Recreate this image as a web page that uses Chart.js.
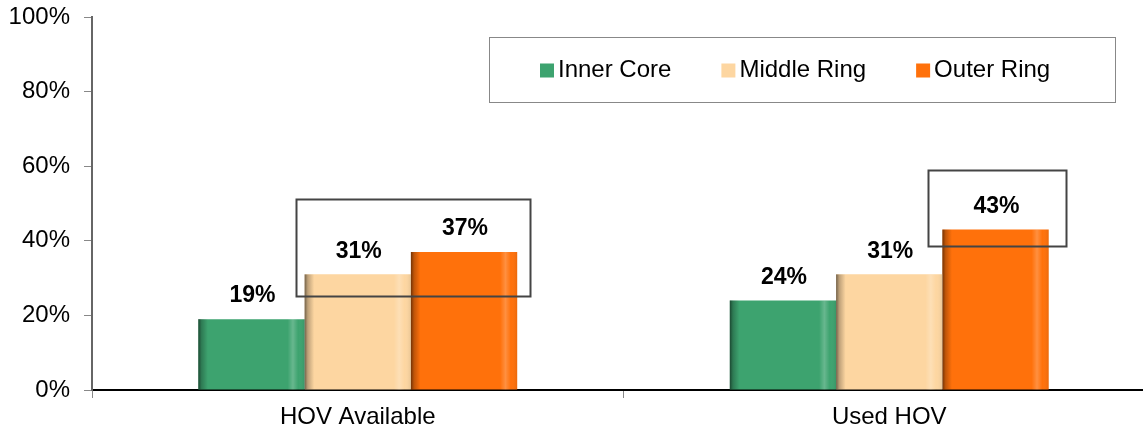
<!DOCTYPE html>
<html><head><meta charset="utf-8">
<script src="https://cdn.jsdelivr.net/npm/chart.js@4"></script>
<style>html,body{margin:0;padding:0;overflow:hidden;background:#fff}#wrap{width:1155px;height:429px}</style>
</head><body><div id="wrap"><canvas id="c" width="1155" height="429"></canvas></div>
<script>
const categories = ['HOV Available', 'Used HOV'];
const seriesNames = ['Inner Core', 'Middle Ring', 'Outer Ring'];
const innerCore = [19, 24];
const middleRing = [31, 31];
const outerRing = [37, 43];
const yTickValues = [0, 20, 40, 60, 80, 100];
// highlight boxes: category, first series, last series, top value, bottom value
const boxCategory = [0, 1];
const boxFirstSeries = [1, 2];
const boxLastSeries = [2, 2];
const boxTopValue = [51.3, 58.9];
const boxBottomValue = [25.3, 38.4];

const seriesColors = ['#3DA36F', '#FDD6A1', '#FF710B'];
const boxPad = [[9, 12], [14, 18]];
const FONT = 'Arial, "Liberation Sans", sans-serif';

const barShade = {
  id: 'barShade',
  afterDatasetsDraw(chart) {
    const ctx = chart.ctx;
    chart.data.datasets.forEach((ds, di) => {
      chart.getDatasetMeta(di).data.forEach(el => {
        const l = el.x - el.width / 2, r = el.x + el.width / 2;
        const g = ctx.createLinearGradient(l, 0, r, 0);
        g.addColorStop(0, 'rgba(0,0,0,0.55)');
        g.addColorStop(0.03, 'rgba(0,0,0,0.25)');
        g.addColorStop(0.09, 'rgba(0,0,0,0)');
        g.addColorStop(0.84, 'rgba(255,255,255,0)');
        g.addColorStop(0.89, 'rgba(255,255,255,0.22)');
        g.addColorStop(0.94, 'rgba(255,255,255,0)');
        g.addColorStop(1, 'rgba(0,0,0,0.08)');
        ctx.save();
        ctx.fillStyle = g;
        ctx.fillRect(l, el.y, el.width, el.base - el.y);
        ctx.restore();
      });
    });
  }
};

const labelsAndBoxes = {
  id: 'labelsAndBoxes',
  afterDraw(chart) {
    const ctx = chart.ctx;
    const ys = chart.scales.y;
    ctx.save();
    // value labels
    ctx.font = 'bold 23px ' + FONT;
    ctx.fillStyle = '#000';
    ctx.textAlign = 'center';
    ctx.textBaseline = 'middle';
    chart.data.datasets.forEach((ds, di) => {
      chart.getDatasetMeta(di).data.forEach((el, i) => {
        ctx.fillText(ds.data[i] + '%', el.x + 1, el.y - 23);
      });
    });
    // highlight boxes
    ctx.strokeStyle = '#444';
    ctx.lineWidth = 2;
    boxCategory.forEach((c, k) => {
      const a = chart.getDatasetMeta(boxFirstSeries[k]).data[c];
      const b = chart.getDatasetMeta(boxLastSeries[k]).data[c];
      const l = a.x - a.width / 2 - boxPad[k][0];
      const r = b.x + b.width / 2 + boxPad[k][1];
      const t = ys.getPixelForValue(boxTopValue[k]);
      const bt = ys.getPixelForValue(boxBottomValue[k]);
      ctx.strokeRect(Math.round(l) + 0.5, Math.round(t) + 0.5, Math.round(r - l), Math.round(bt - t));
    });
    // legend
    const ca = chart.chartArea;
    const lx = ca.left + 397, ly = 37, lw = 626, lh = 65;
    ctx.strokeStyle = '#888';
    ctx.lineWidth = 1;
    ctx.strokeRect(lx + 0.5, ly + 0.5, lw, lh);
    ctx.font = '24px ' + FONT;
    ctx.textAlign = 'left';
    let x = lx + 51;
    const cy = ly + lh / 2 + 1;
    chart.data.datasets.forEach((ds, di) => {
      ctx.fillStyle = seriesColors[di];
      ctx.fillRect(x, cy - 7, 14, 14);
      ctx.fillStyle = '#000';
      ctx.fillText(ds.label, x + 18, cy);
      x += 18 + ctx.measureText(ds.label).width + 50;
    });
    ctx.restore();
  }
};

new Chart(document.getElementById('c'), {
  type: 'bar',
  data: {
    labels: categories,
    datasets: [
      { label: seriesNames[0], data: innerCore, backgroundColor: seriesColors[0] },
      { label: seriesNames[1], data: middleRing, backgroundColor: seriesColors[1] },
      { label: seriesNames[2], data: outerRing, backgroundColor: seriesColors[2] }
    ]
  },
  options: {
    responsive: false,
    animation: false,
    events: [],
    layout: { padding: { top: 17, left: 0, right: 0, bottom: 0 } },
    datasets: { bar: { categoryPercentage: 0.6, barPercentage: 1.0, borderWidth: 0 } },
    plugins: { legend: { display: false }, tooltip: { enabled: false } },
    scales: {
      x: {
        grid: { display: true, drawOnChartArea: false, drawTicks: true, tickLength: 8, color: '#888', offset: true },
        border: { display: true, color: '#000', width: 2 },
        ticks: { color: '#000', font: { size: 24, family: FONT }, padding: 5 },
        afterFit(s) { s.height = 39; s.paddingLeft = 0; s.paddingRight = 0; }
      },
      y: {
        min: 0, max: 100,
        afterBuildTicks(s) { s.ticks = yTickValues.map(v => ({ value: v })); },
        grid: { display: true, drawOnChartArea: false, drawTicks: true, tickLength: 8, color: '#888' },
        border: { display: true, color: '#666', width: 2 },
        ticks: { color: '#000', font: { size: 24, family: FONT }, padding: 14, callback: v => v + '%' },
        afterFit(s) { s.width = 92; s.paddingTop = 0; s.paddingBottom = 0; }
      }
    }
  },
  plugins: [barShade, labelsAndBoxes]
});
</script></body></html>
